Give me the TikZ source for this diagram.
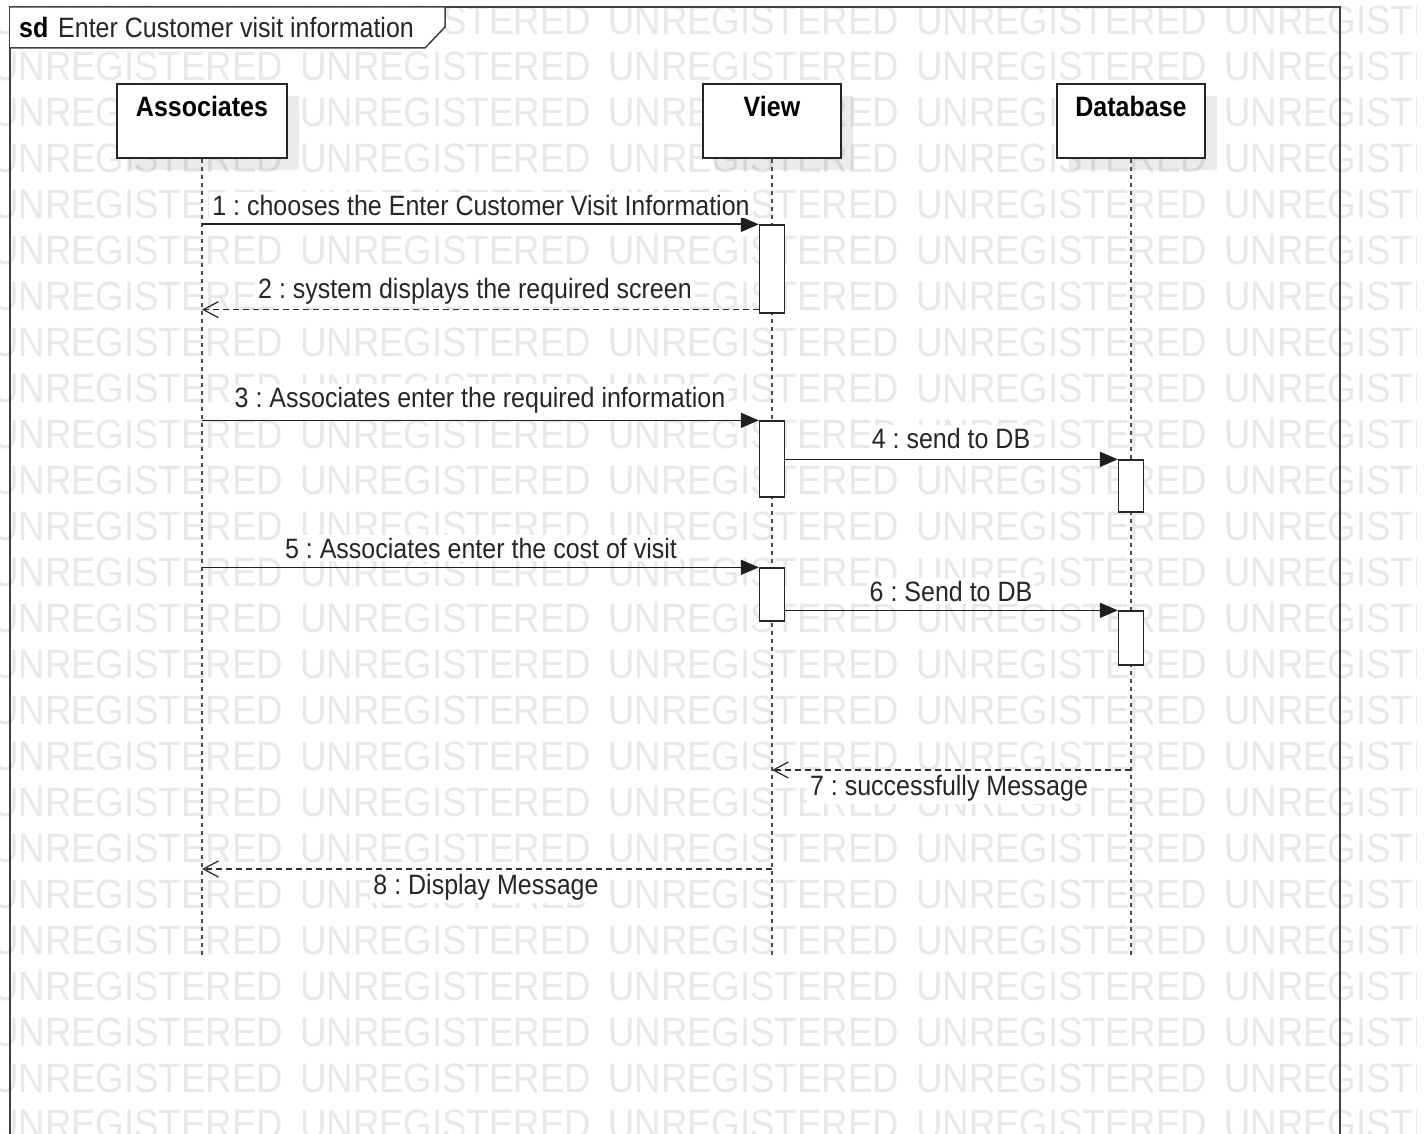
\documentclass[tikz,border=0pt]{standalone}
\usepackage{fontspec}
\setmainfont{Liberation Sans}
\usepackage{graphicx}
\usetikzlibrary{arrows.meta,calc}
\newcommand\vstretch[1]{\scalebox{1}[1.12]{#1}}
\frenchspacing

\begin{document}
\begin{tikzpicture}[x=1pt,y=-1pt,
  txt/.style={font=\fontsize{25}{30}\selectfont, text=black!85, inner sep=0pt},
  lbl/.style={txt, fill=white, inner sep=3pt},
  lifename/.style={font=\fontsize{25}{30}\selectfont\bfseries, text=black, inner sep=0pt},
  headbox/.style={draw=black!85, line width=1.3pt, fill=white, minimum width=#1, minimum height=74pt, inner sep=0pt},
  actbar/.style={draw=black!85, line width=1.3pt, fill=white, minimum width=25pt, minimum height=#1, inner sep=0pt},
  lifeline/.style={draw=black!70, line width=1.3pt, dash pattern=on 4pt off 4pt},
  callmsg/.style={draw=black!88, line width=1.7pt, -{Triangle[length=18pt,width=15pt]}},
  replymsg/.style={draw=black!82, line width=1.6pt, dash pattern=on 6pt off 4pt,
    -{Straight Barb[length=15pt,width=16pt,line width=1.3pt]}},
  sdframe/.style={draw=black!75, line width=1.5pt},
  wmark/.style={font=\fontsize{36.6}{40}\selectfont, text=black!9, anchor=west, inner sep=0pt},
  dropshade/.style={fill=black, opacity=0.08}
]
\useasboundingbox (0,0) rectangle (1428,1134);
\fill[white] (0,0) rectangle (1428,1134);

% repeated background stamp
\begin{scope}
  \clip (0,0) rectangle (1416,1134);
  \foreach \r in {0,...,24}
    \foreach \c in {0,...,4}
      \node[wmark] (w-\r-\c) at ({-8+308*\c},{20+46*\r}) {\vstretch{UNREGISTERED}};
\end{scope}

% diagram frame and its name tab
\draw[sdframe] (10,1140) -- (10,7) -- (1340,7) -- (1340,1140);
\draw[sdframe, fill=white] (10,7) -- (445,7) -- (445,27) -- (425,48) -- (10,48);
\node[lifename, anchor=west] (sd) at (19,27) {\vstretch{sd}};
\node[txt, anchor=west] (title) at (58,27) {\vstretch{Enter Customer visit information}};

% lifeline heads with drop shadows
\fill[dropshade] (129,96) rectangle (299,170);
\fill[dropshade] (715,96) rectangle (853,170);
\fill[dropshade] (1069,96) rectangle (1217,170);
\node[headbox=170pt] (A) at (202,121) {};
\node[headbox=138pt] (V) at (772,121) {};
\node[headbox=148pt] (D) at (1131,121) {};
\node[lifename] (An) at (202,106) {\vstretch{Associates}};
\node[lifename] (Vn) at (772,106) {\vstretch{View}};
\node[lifename] (Dn) at (1131,106) {\vstretch{Database}};

% lifelines
\coordinate (bottom) at (0,958);
\draw[lifeline] (A.south) -- (A |- bottom);
\draw[lifeline] (V.south) -- (V |- bottom);
\draw[lifeline] (D.south) -- (D |- bottom);

% activation bars
\node[actbar=88pt] (v1) at (772,269) {};
\node[actbar=76pt] (v2) at (772,459) {};
\node[actbar=53pt] (v3) at (772,594.5) {};
\node[actbar=52pt] (d1) at (1131,486) {};
\node[actbar=54pt] (d2) at (1131,638) {};

% messages
\draw[callmsg] (A |- v1.north) -- (v1.north west);
\coordinate (m2) at ($(v1.south west)+(0,-4)$);
\draw[replymsg] (m2) -- (A |- m2);
\draw[callmsg] (A |- v2.north) -- (v2.north west);
\draw[callmsg] (v2.east |- d1.north) -- (d1.north west);
\draw[callmsg] (A |- v3.north) -- (v3.north west);
\draw[callmsg] (v3.east |- d2.north) -- (d2.north west);
\coordinate (m7) at (0,770);
\draw[replymsg] (D |- m7) -- (V |- m7);
\coordinate (m8) at (0,869);
\draw[replymsg] (V |- m8) -- (A |- m8);

% message labels
\node[lbl] (l1) at (481,205) {\vstretch{1 : chooses the Enter Customer Visit Information}};
\node[lbl] (l2) at (475,291) {\vstretch{2 : system displays the required screen}};
\node[lbl] (l3) at (480,400) {\vstretch{3 : Associates enter the required information}};
\node[lbl] (l4) at (951,438) {\vstretch{4 : send to DB}};
\node[lbl] (l5) at (481,548) {\vstretch{5 : Associates enter the cost of visit}};
\node[lbl] (l6) at (951,591) {\vstretch{6 : Send to DB}};
\node[lbl] (l7) at (949,788) {\vstretch{7 : successfully Message}};
\node[lbl] (l8) at (486,887) {\vstretch{8 : Display Message}};
\end{tikzpicture}
\end{document}
